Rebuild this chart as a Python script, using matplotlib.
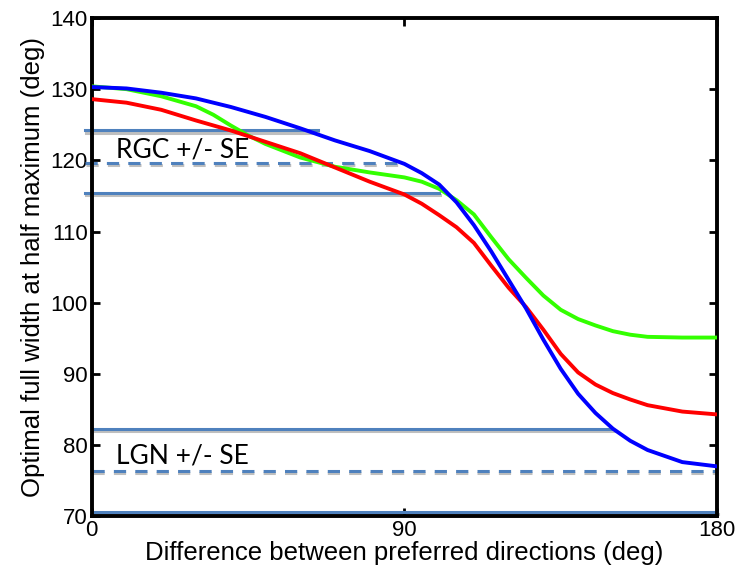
import numpy as np
import matplotlib
matplotlib.use("Agg")
import matplotlib.pyplot as plt
import matplotlib.patheffects as pe

# curve data
x_blue = [0, 10, 20, 30, 40, 50, 60, 70, 80, 90, 95, 100, 105, 110, 115, 120, 125, 130, 135, 140, 145, 150,
          155, 160, 170, 180]
y_blue = [130.3, 130.1, 129.5, 128.7, 127.5, 126.1, 124.5, 122.8, 121.3, 119.5, 118.2, 116.6, 114.1, 110.9, 107.2,
          103.2, 99.2, 94.8, 90.7, 87.2, 84.5, 82.3, 80.6, 79.3, 77.6, 77.0]

x_red = [0, 10, 20, 30, 40, 50, 60, 70, 80, 90, 95, 100, 105, 110, 115, 120, 125, 130, 135, 140, 145, 150, 155,
         160, 170, 180]
y_red = [128.6, 128.1, 127.1, 125.6, 124.2, 122.6, 121.0, 119.0, 117.0, 115.2, 113.9, 112.3, 110.6, 108.4, 105.2,
         102.1, 99.4, 96.2, 92.8, 90.2, 88.5, 87.3, 86.4, 85.6, 84.7, 84.3]

x_green = [0, 10, 20, 25, 30, 35, 40, 45, 50, 60, 70, 80, 90, 95, 100, 105, 110, 115, 120, 125, 130, 135,
           140, 145, 150, 155, 160, 170, 180]
y_green = [130.4, 130.0, 129.0, 128.3, 127.6, 126.4, 124.9, 123.5, 122.3, 120.4, 119.1, 118.3, 117.6, 117.0,
           116.0, 114.4, 112.4, 109.2, 106.1, 103.5, 101.0, 99.0, 97.7, 96.8, 96.0, 95.5, 95.2, 95.1, 95.1]

# reference levels and where each line ends
rgc_levels = [124.2, 119.6, 115.4]
rgc_ends = [65, 88, 100]
lgn_levels = [82.2, 76.4, 70.6]
lgn_ends = [150, 180, 180]

fig = plt.figure(figsize=(7.4, 5.8), dpi=100)
ax = fig.add_axes([0.124, 0.110, 0.845, 0.859])

ref_col = "#4f81bd"
shadow = [pe.SimpleLineShadow(offset=(0.5, -1.5), alpha=0.25), pe.Normal()]

for levels, ends, x0 in [(rgc_levels, rgc_ends, -2), (lgn_levels, lgn_ends, 0)]:
    for i, (lv, xe) in enumerate(zip(levels, ends)):
        if i == 1:
            ax.plot([x0, xe], [lv, lv], color=ref_col, lw=2.2, ls="--", dashes=(4, 3),
                    clip_on=False, path_effects=shadow, zorder=2)
        else:
            ax.plot([x0, xe], [lv, lv], color=ref_col, lw=2.2,
                    clip_on=False, path_effects=shadow, zorder=2)

ax.plot(x_green, y_green, color="#33ff00", lw=2.8, zorder=3)
ax.plot(x_red, y_red, color="#ff0000", lw=2.8, zorder=3)
ax.plot(x_blue, y_blue, color="#0000ff", lw=2.8, zorder=4)

ax.text(7, 121.5, "RGC +/- SE", fontsize=19, family="Lato", va="center", ha="left", zorder=5)
ax.text(7, 78.5, "LGN +/- SE", fontsize=19, family="Lato", va="center", ha="left", zorder=5)

ax.set_xlim(0, 180)
ax.set_ylim(70, 140)
ax.set_xticks([0, 90, 180])
ax.set_yticks(np.arange(70, 141, 10))
ax.tick_params(direction="in", length=6, width=2, top=True, right=True, labelsize=16, pad=3)
for lab in ax.get_xticklabels() + ax.get_yticklabels():
    lab.set_family("Liberation Sans")
for s in ax.spines.values():
    s.set_linewidth(2.8)

ax.set_xlabel("Difference between preferred directions (deg)", fontsize=18.5, family="Liberation Sans", labelpad=0)
ax.set_ylabel("Optimal full width at half maximum (deg)", fontsize=18.5, family="Liberation Sans", labelpad=4)

fig.savefig("out.png", dpi=100)
